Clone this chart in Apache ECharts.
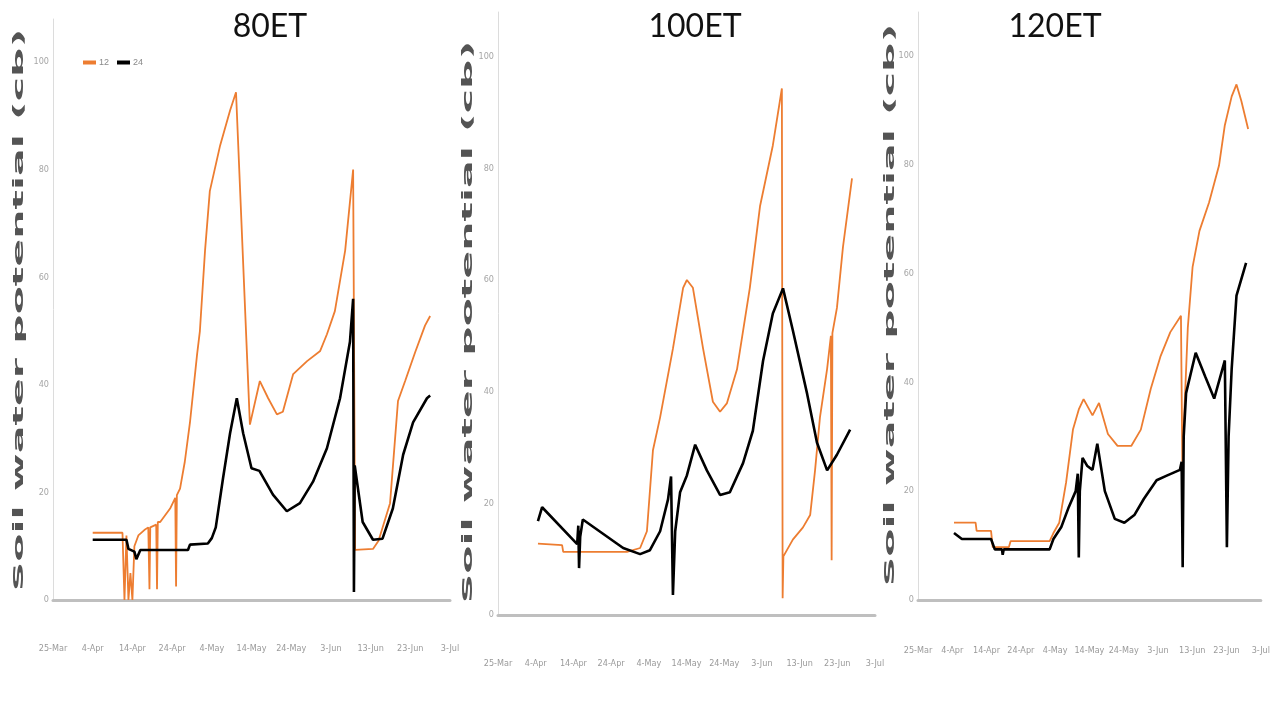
<!DOCTYPE html>
<html>
<head>
<meta charset="utf-8">
<script src="https://cdn.jsdelivr.net/npm/echarts@6/dist/echarts.min.js"></script>
<style>
html,body{margin:0;padding:0;background:#fff;}
#chart{width:1273px;height:706px;}
</style>
</head>
<body>
<div id="chart"></div>
<script>
// x values are days after 25-Mar
const tickLabels = ['25-Mar','4-Apr','14-Apr','24-Apr','4-May','14-May','24-May','3-Jun','13-Jun','23-Jun','3-Jul'];
const panelTitles = ['80ET','100ET','120ET'];
const seriesNames = ['12','24'];
const yAxisTitle = 'Soil water potential (cb)';

const et80_12 = [[10,12.5],[17.5,12.5],[18,0],[18.5,12],[19,0],[19.5,5],[20,0],[20.5,10],[21.5,12],[23,13],[24,13.5],[24.3,2],[24.5,13.5],[26,14],[26.2,2],[26.4,14.5],[27,14.5],[29.5,17],[30.8,19],[31,2.5],[31.2,19.5],[32,20.7],[33.2,25.7],[34.5,33],[36.3,45.7],[37,50],[38.3,65],[39.5,76],[42.1,84.5],[44.6,91],[46.1,94.4],[49.6,32.6],[52.1,40.7],[54.2,37.5],[56.4,34.5],[57.9,35],[60.5,42],[64,44.4],[67.3,46.3],[69,49.4],[71,53.7],[73.6,65],[75.6,80],[76.1,9.3],[80.6,9.5],[82,11],[84.9,18],[86.9,37],[88.7,40.7],[91.2,46],[93.7,51],[95,52.8]];
const et80_24 = [[10,11.2],[18.5,11.2],[19,9.5],[20.5,9],[21,7.6],[22,9.3],[34,9.3],[34.5,10.3],[39,10.5],[40,11.5],[41,13.5],[42.8,22.5],[44.6,31],[46.3,37.5],[47.9,31],[50,24.5],[52,24],[55.4,19.6],[58.9,16.5],[62.2,18],[65.5,22],[69,28.2],[72.3,37.5],[74.8,48],[75.6,56],[75.8,1.5],[76,25],[78,14.5],[80.6,11.2],[83,11.4],[85.6,17],[88.2,27],[90.7,33],[94.2,37.5],[95,38]];

const et100_12 = [[10.6,12.8],[17,12.5],[17.3,11.3],[34.2,11.3],[37.7,12],[39.5,15],[41.1,29.5],[43,35.4],[46.4,47.7],[49.1,58.6],[50.1,60],[51.7,58.6],[54.4,47.7],[57,38.2],[58.9,36.4],[60.7,37.9],[63.4,44],[66.8,58.6],[69.5,73.2],[72.9,84.1],[75.3,94.3],[75.5,3],[75.7,10.5],[78.2,13.5],[80.9,15.7],[82.8,17.9],[84.1,25.9],[85.4,35.4],[87.3,44.1],[88.3,50],[88.5,9.8],[88.7,50.5],[89.9,55],[91.5,65.9],[93.9,78.2]];
const et100_24 = [[10.6,16.8],[11.7,19.3],[21,12.7],[21.3,16],[21.5,8.4],[21.8,14],[22.5,17.1],[33.2,12],[37.7,10.9],[40.3,11.6],[43,15],[45.1,20.7],[45.9,24.8],[46.4,3.6],[47,15],[48.3,22],[50.1,25],[52.3,30.5],[55.4,25.9],[58.9,21.5],[61.5,22],[65,27.2],[67.6,33],[70.3,45.5],[72.9,54],[75.6,58.5],[78.2,51],[82,39.6],[84.6,30.9],[87.3,25.9],[89.9,28.7],[93.4,33.2]];

const et120_12 = [[10.5,14.2],[16.8,14.2],[17.1,12.7],[21.3,12.7],[21.8,9.7],[26.5,9.7],[27,10.8],[38.4,10.8],[39.5,12.3],[41.2,14.2],[43.2,21.6],[45.2,31.3],[46.9,35],[48.3,36.9],[50.9,33.9],[52.8,36.2],[55.4,30.5],[58.2,28.3],[62.2,28.3],[65,31.3],[67.9,38.8],[70.7,44.7],[73.6,49.2],[76.7,52.2],[77.1,25.4],[78.7,50],[80.1,61.2],[82.1,67.8],[84.9,73],[87.8,79.8],[89.5,87.2],[91.5,92.5],[92.9,94.7],[94.3,91.7],[96.3,86.5]];
const et120_24 = [[10.5,12.3],[12.8,11.2],[21.3,11.2],[22.4,9.3],[24.5,9.3],[24.7,8.3],[25,9.3],[38.4,9.3],[39.5,11.2],[41.8,13.4],[44,17.1],[46,20],[46.6,23.2],[46.9,7.8],[47.2,20],[48,26.1],[49.4,24.6],[50.9,23.9],[52.3,28.7],[54.5,20],[57.4,14.9],[60.2,14.2],[63.1,15.6],[65.9,18.6],[69.6,22],[72.4,22.8],[76.4,23.9],[76.9,25.4],[77.2,6],[77.5,30],[78.2,38],[81,45.4],[83.8,41],[86.4,37],[89.5,44],[90.1,9.7],[90.6,30],[91.5,42.5],[92.9,55.9],[95.7,61.9]];

const panelData = [[et80_12, et80_24],[et100_12, et100_24],[et120_12, et120_24]];

// layout (pixels)
const layout = [
  {left:53, width:397, top:19, height:581, titleX:265, labelMargin:44, nameX:19, nameY:310},
  {left:498, width:377, top:12, height:603, titleX:690, labelMargin:44, nameX:468, nameY:322},
  {left:918, width:352, top:12, height:588, titleX:1050, labelMargin:46, nameX:890, nameY:305}
];
const colors = ['#ED7D31', '#000000'];
const widths = [1.8, 2.6];

const grid = [], xAxis = [], yAxis = [], series = [], title = [], graphic = [];
layout.forEach((L, i) => {
  grid.push({left:L.left, width:L.width, top:L.top, height:L.height, containLabel:false});
  title.push({text: panelTitles[i], left: L.titleX, top: 6, textAlign:'center',
    textStyle:{fontFamily:'Lato', fontWeight:'normal', fontSize:32, color:'#111'}});
  graphic.push({type:'text', x:L.nameX, y:L.nameY, rotation:Math.PI/2, scaleX:1, scaleY:0.34,
    style:{text:yAxisTitle, fontFamily:'DejaVu Sans', fontWeight:'bold', fontSize:41,
      fill:'#545454', align:'center', verticalAlign:'middle'}});
  xAxis.push({type:'value', gridIndex:i, min:0, max:100, interval:10,
    axisLine:{show:true, lineStyle:{color:'#bfbfbf', width:3}},
    axisTick:{show:false}, splitLine:{show:false},
    axisLabel:{margin:L.labelMargin, color:'#9a9a9a', fontSize:9, fontFamily:'DejaVu Sans Condensed',
      formatter: v => tickLabels[Math.round(v/10)] || ''}});
  yAxis.push({type:'value', gridIndex:i, min:0, max:108, interval:20,
    axisLine:{show:true, lineStyle:{color:'#dcdcdc', width:1}},
    axisTick:{show:false}, splitLine:{show:false},
    axisLabel:{margin:4, color:'#a6a6a6', fontSize:9, fontFamily:'DejaVu Sans Condensed',
      formatter: v => (v % 20 === 0 && v <= 100) ? String(v) : ''}});
  panelData[i].forEach((d, k) => {
    series.push({type:'line', name: seriesNames[k], xAxisIndex:i, yAxisIndex:i, data:d,
      showSymbol:false, symbol:'none', animation:false,
      itemStyle:{color:colors[k]},
      lineStyle:{color:colors[k], width:widths[k]}});
  });
});

const chart = echarts.init(document.getElementById('chart'), null, {renderer:'canvas'});
chart.setOption({
  backgroundColor:'#ffffff',
  animation:false,
  title: title,
  graphic: graphic,
  legend:{data: seriesNames, left:78, top:53, icon:'rect', itemWidth:13, itemHeight:4, itemGap:8,
    textStyle:{fontSize:9, color:'#8a8a8a', padding:[0,0,0,-2]}},
  grid: grid, xAxis: xAxis, yAxis: yAxis, series: series
});
</script>
</body>
</html>
